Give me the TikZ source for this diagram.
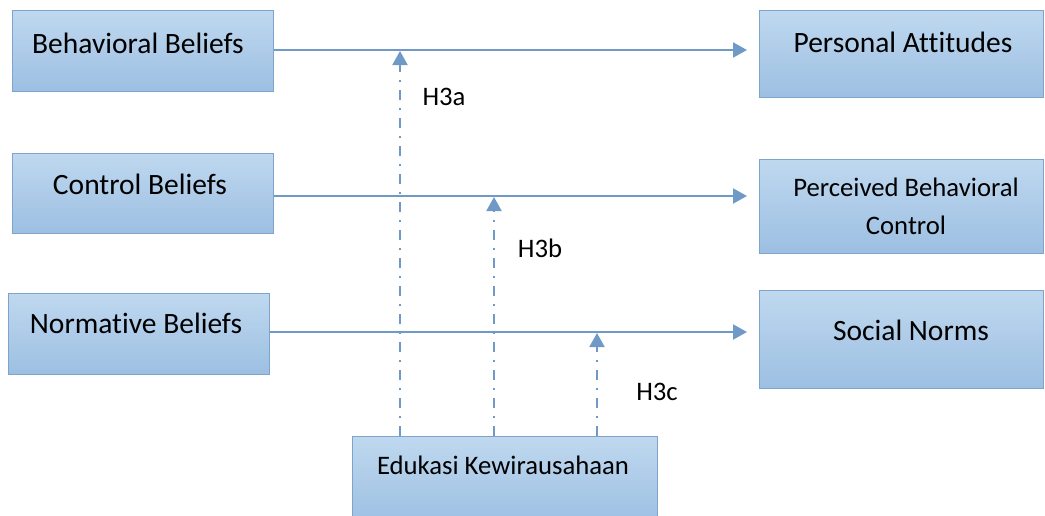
\documentclass[tikz,border=0pt]{standalone}
\usepackage{fontspec}
\setmainfont{Carlito}[Ligatures=NoCommon]
\usetikzlibrary{arrows.meta}
\definecolor{lineblue}{HTML}{6F9AC7}
\definecolor{boxtop}{HTML}{BFD8EF}
\definecolor{boxbot}{HTML}{9CBFE2}
\definecolor{boxedge}{HTML}{7FA4CC}
\tikzset{
  box/.style={draw=boxedge, line width=1.2pt, top color=boxtop, bottom color=boxbot,
    rectangle, inner sep=0pt, anchor=north west},
  lbl/.style={font=\fontsize{29.5}{34}\selectfont, inner sep=0pt, text=black},
  slbl/.style={font=\fontsize{26.7}{32}\selectfont, inner sep=0pt, text=black, align=center},
  conn/.style={draw=lineblue, line width=2pt, -{Triangle[length=14pt,width=15pt]}, color=lineblue},
  modconn/.style={draw=lineblue, line width=2pt, dash pattern=on 10pt off 8pt on 2pt off 8pt,
    -{Triangle[length=14pt,width=15pt,sep=0pt]}, color=lineblue},
}
\begin{document}
\begin{tikzpicture}[x=1pt,y=-1pt]
\useasboundingbox (0,0) rectangle (1045,515);
% left boxes
\node[box, minimum width=261pt, minimum height=81pt] (bb) at (12,10) {};
\node[lbl] (bbt) at (138,43) {Behavioral Beliefs};
\node[box, minimum width=261pt, minimum height=80pt] (cb) at (12,153) {};
\node[lbl] (cbt) at (140,184) {Control Beliefs};
\node[box, minimum width=261pt, minimum height=81pt] (nb) at (8,293) {};
\node[lbl] (nbt) at (136,323) {Normative Beliefs};
% right boxes
\node[box, minimum width=284pt, minimum height=87pt] (pa) at (759,10) {};
\node[lbl] (pat) at (903,42) {Personal Attitudes};
\node[box, minimum width=284pt, minimum height=94pt] (pbc) at (759,159) {};
\node[slbl] (pbct) at (906,206) {Perceived Behavioral\\[6pt]Control};
\node[box, minimum width=284pt, minimum height=98pt] (sn) at (759,290) {};
\node[lbl] (snt) at (911,330) {Social Norms};
% bottom box
\node[box, minimum width=305pt, minimum height=90pt] (ek) at (352,436) {};
\node[slbl] (ekt) at (503,465) {Edukasi Kewirausahaan};
% horizontal connectors
\coordinate (c1) at (747,50);
\coordinate (c2) at (747,196);
\coordinate (c3) at (747,332);
\draw[conn] (bb.east |- c1) -- (c1);
\draw[conn] (cb.east |- c2) -- (c2);
\draw[conn] (nb.east |- c3) -- (c3);
% moderation connectors
\coordinate (m1) at (400,51);
\coordinate (m2) at (494,197);
\coordinate (m3) at (597,333);
\draw[modconn] (ek.north -| m1) -- (m1);
\draw[modconn] (ek.north -| m2) -- (m2);
\draw[modconn] (ek.north -| m3) -- (m3);
% labels
\node[slbl] (h3a) at (444,97) {H3a};
\node[slbl] (h3b) at (540,248) {H3b};
\node[slbl] (h3c) at (657,392) {H3c};
\end{tikzpicture}
\end{document}
